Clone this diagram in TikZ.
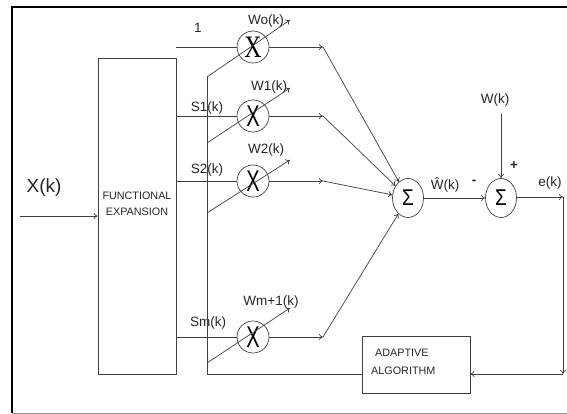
\documentclass[tikz,border=0pt]{standalone}
\usepackage{fontspec}
\usepackage{graphicx}
\setmainfont{Liberation Sans}
\newfontfamily\serifx{Liberation Serif}
\usetikzlibrary{arrows.meta,shapes.geometric}
\begin{document}
\begin{tikzpicture}[x=1pt,y=-1pt,
  ln/.style={draw=black!75, line width=0.7pt},
  arr/.style={ln, -{To[length=4pt,width=6pt]}},
  mult/.style={circle, ln, minimum size=32pt, inner sep=0pt},
  sumn/.style={ellipse, ln, minimum width=31pt, minimum height=39pt, inner sep=0pt},
  lbl/.style={font=\fontsize{13.5}{14}\selectfont, inner sep=0pt, text=black!85},
  boxtxt/.style={font=\fontsize{10.8}{13}\selectfont, inner sep=0pt, text=black!85},
  blk/.style={ln, rectangle, inner sep=0pt},
]
\useasboundingbox (0,0) rectangle (567,414);
% frame
\draw[black, line width=1.6pt] (567,7) -- (12,7) -- (12,413);
\draw[black!40, line width=0.9pt] (12,413) -- (567,413);

% functional expansion block
\node[blk, minimum width=78pt, minimum height=316pt] (fe) at (137,216) {};
\node[boxtxt] (fet1) at (137,196) {FUNCTIONAL};
\node[boxtxt] (fet2) at (137,212) {EXPANSION};

% input
\node[lbl, font=\fontsize{19}{20}\selectfont] (xk) at (44,188) {X(k)};
\coordinate (xin) at (20,216);
\draw[arr] (xin) -- (fe.west);

% multipliers
\newcommand{\mxs}{{\serifx\fontsize{25}{25}\selectfont\scalebox{0.95}[1.25]{X}}}
\newcommand{\mx}{{\fontsize{20}{20}\selectfont\scalebox{1}[1.5]{X}}}
\node[mult] (m0) at (253,47) {\mxs};
\node[mult] (m1) at (253,116) {\mx};
\node[mult] (m2) at (253,181) {\mx};
\node[mult] (m3) at (253,337) {\mx};

% signals from FE
\draw[ln] (fe.east |- m0) -- (m0);
\draw[ln] (fe.east |- m1) -- (m1);
\draw[ln] (fe.east |- m2) -- (m2);
\draw[ln] (fe.east |- m3) -- (m3);

\node[lbl] (one) at (198,28) {1};
\node[lbl] (s1l) at (207,108) {S1(k)};
\node[lbl] (s2l) at (207,170) {S2(k)};
\node[lbl] (sml) at (208,323) {Sm(k)};

\node[lbl] (w0l) at (266,21) {Wo(k)};
\node[lbl] (w1l) at (269,87) {W1(k)};
\node[lbl] (w2l) at (266,150) {W2(k)};
\node[lbl] (wml) at (271,302) {Wm+1(k)};

% weight update bus
\coordinate (v0) at (207,77);
\coordinate (v1) at (207,143);
\coordinate (v2) at (207,213);
\coordinate (v3) at (207,363);
\coordinate (vb) at (207,374);
\coordinate (t0) at (290,20);
\coordinate (t1) at (290,88);
\coordinate (t2) at (290,160);
\coordinate (t3) at (290,308);
\draw[arr] (v0) -- (t0);
\draw[arr] (v1) -- (t1);
\draw[arr] (v2) -- (t2);
\draw[arr] (v3) -- (t3);

% summation nodes
\node[sumn] (s1) at (408,198) {\fontsize{19}{19}\selectfont\scalebox{1}[1.2]{Σ}};
\node[sumn] (s2) at (501,198) {\fontsize{19}{19}\selectfont\scalebox{1}[1.2]{Σ}};

% multiplier outputs
\coordinate (a0) at (323,47);
\coordinate (a1) at (323,116);
\coordinate (a2) at (323,181);
\coordinate (a3) at (323,337);
\draw[arr] (m0) -- (a0);
\draw[arr] (m1) -- (a1);
\draw[arr] (m2) -- (a2);
\draw[arr] (m3) -- (a3);
\draw[arr] (a0) -- (s1);
\draw[arr] (a1) -- (s1);
\draw[arr] (a2) -- (s1);
\draw[arr] (a3) -- (s1);

% error computation
\draw[arr] (s1) -- (s2);
\node[lbl] (what) at (445,185) {Ŵ(k)};
\node[lbl, font=\bfseries\fontsize{13.5}{14}\selectfont] (minus) at (474,182) {-};
\node[lbl, font=\bfseries\fontsize{13.5}{14}\selectfont] (plus) at (514,166) {+};
\node[lbl] (wk) at (495,100) {W(k)};
\coordinate (wtop) at (501,114);
\draw[arr] (wtop) -- (s2);
\node[lbl] (ek) at (550,183) {e(k)};
\coordinate (ecorner) at (563,197);
\coordinate (fbr) at (563,374);
\draw[arr] (s2.east |- ecorner) -- (ecorner);
\draw[arr] (ecorner) -- (fbr);

% adaptive algorithm
\node[blk, minimum width=108pt, minimum height=57pt] (ad) at (416,364.5) {};
\node[boxtxt, anchor=west] (adt1) at (375,353) {ADAPTIVE};
\node[boxtxt, anchor=west] (adt2) at (371,371) {ALGORITHM};
\draw[arr] (fbr) -- (fbr -| ad.east);
\draw[ln] (vb -| ad.west) -- (vb) -- (v0);
\end{tikzpicture}
\end{document}
